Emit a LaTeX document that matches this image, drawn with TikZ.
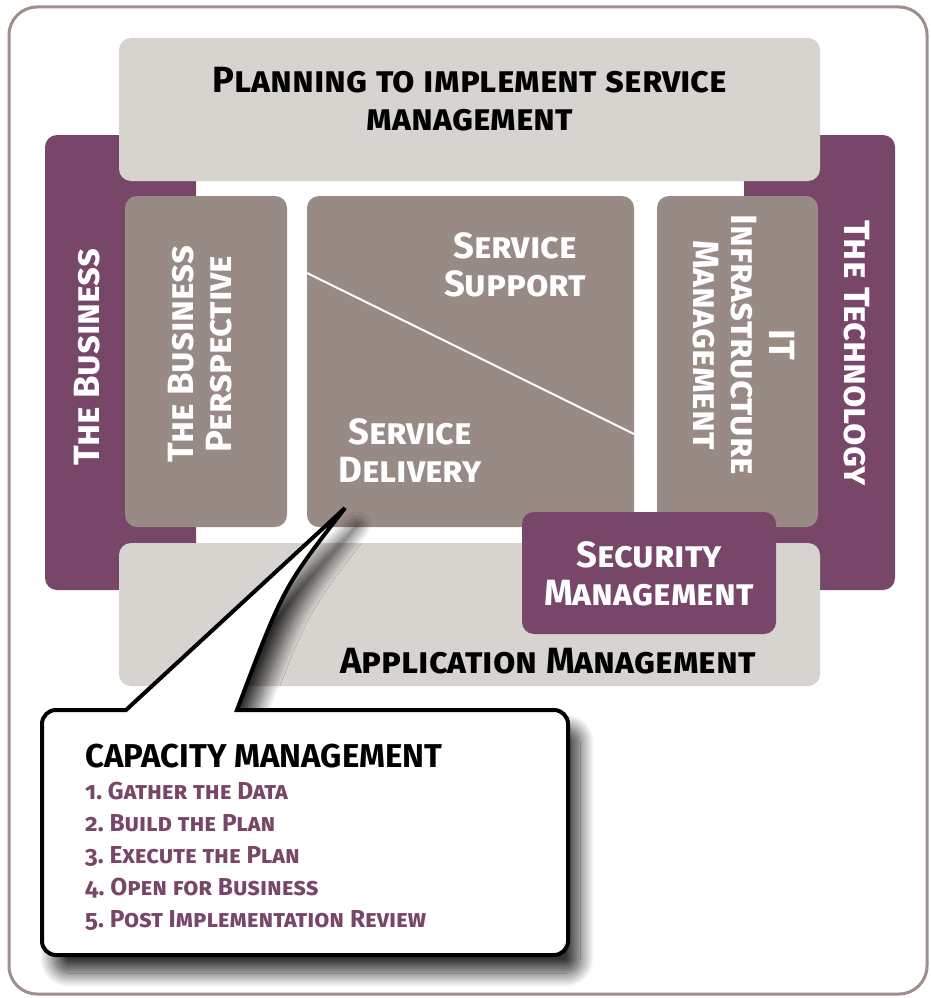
\documentclass[tikz,border=0pt]{standalone}
\usepackage{fontspec}
\setmainfont{Fira Sans}[Numbers=OldStyle]
\usetikzlibrary{shadows.blur}
\definecolor{plum}{HTML}{774668}
\definecolor{taupe}{HTML}{988A85}
\definecolor{stone}{HTML}{D7D3CE}
\definecolor{rim}{HTML}{9D908B}
\newcommand{\capsfont}{\fontsize{36.5}{38}\selectfont\bfseries\scshape}

\begin{document}
\begin{tikzpicture}[x=1pt, y=-1pt,
    lbl/.style={font=\capsfont, align=center, inner sep=0pt},
    heading/.style={font=\fontsize{33}{35}\selectfont\bfseries, inner sep=0pt},
    item/.style={font=\fontsize{24.5}{26}\selectfont\bfseries\scshape, text=plum, inner sep=0pt}]
    %%%%% FRAME %%%%%
    \useasboundingbox (0,0) rectangle (931,998);
    \draw[rim, line width=3, rounded corners=28] (9,7) rectangle (927,994);

    %%%%% SIDE BARS %%%%%
    \fill[plum, rounded corners=12] (45,135) rectangle (196,590);
    \fill[plum, rounded corners=12] (744,135) rectangle (895,590);

    %%%%% TOP AND BOTTOM BARS %%%%%
    \fill[stone, rounded corners=12] (119,38) rectangle (820,181);
    \fill[stone, rounded corners=12] (119,543) rectangle (820,686);

    %%%%% INNER BOXES %%%%%
    \fill[taupe, rounded corners=12] (125,196) rectangle (287,527);
    \fill[taupe, rounded corners=12] (307,196) rectangle (634,527);
    \fill[taupe, rounded corners=12] (657,196) rectangle (818,527);
    \coordinate (cutA) at (307,273);
    \coordinate (cutB) at (634,434);
    \draw[white, line width=2] (cutA) -- (cutB);

    \fill[plum, rounded corners=12] (522,512) rectangle (776,634);

    %%%%% LABELS %%%%%
    \node[lbl] (plan) at (470,99) {Planning to implement service\\management};
    \node[lbl, rotate=90, text=white] (biz) at (87,357) {The Business};
    \node[lbl, rotate=90, text=white, text depth=0pt] (bizview) at (200,354) {The Business\\Perspective};
    \node[lbl, text=white] (support) at (515,265) {Service\\Support};
    \node[lbl, text=white] (delivery) at (410,451) {Service\\Delivery};
    \node[lbl, rotate=-90, text=white] (infra) at (744,345) {IT\\Infrastructure\\Management};
    \node[lbl, rotate=-90, text=white] (tech) at (857,353) {The Technology};
    \node[lbl, text=white] (security) at (649,574) {Security\\Management};
    \node[lbl] (apps) at (548,661) {Application Management};

    %%%%% CALLOUT %%%%%
    \coordinate (tip) at (345,508);
    \draw[fill=white, line width=4, line join=miter,
          blur shadow={shadow xshift=12pt, shadow yshift=-18pt, shadow blur radius=14pt, shadow blur steps=20, shadow opacity=80}]
        (237,710) [rounded corners=14] -- (568,710) -- (568,955) -- (42,955) -- (42,710)
        [sharp corners] -- (126,710) -- (tip) .. controls (283,588) .. cycle;

    \node[heading, anchor=base west] (capacity) at (85,767) {CAPACITY MANAGEMENT};
    \foreach \txt [count=\i] in {Gather the Data, Build the Plan, Execute the Plan, Open for Business, Post Implementation Review}
        \node[item, anchor=base west] (step\i) at (85,{767+32*\i}) {\i.~\txt};
\end{tikzpicture}
\end{document}
